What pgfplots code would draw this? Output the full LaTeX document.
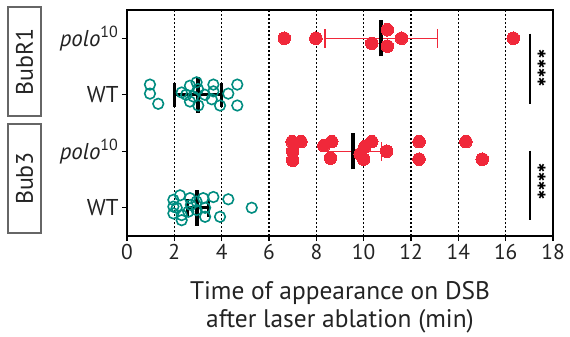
\documentclass[border=0pt]{standalone}
\usepackage{fontspec}
\setmainfont{PT Sans}
\newfontfamily\djv{DejaVu Sans}
\usepackage{pgfplots}
\pgfplotsset{compat=1.18}
\definecolor{myred}{RGB}{240,40,58}
\definecolor{myteal}{RGB}{0,140,128}
\definecolor{txt}{RGB}{35,35,35}
\begin{document}
\begin{tikzpicture}[x=1bp,y=1bp]
\useasboundingbox (-127,-100) rectangle (443,236);
\begin{axis}[at={(0,0)}, anchor=south west, scale only axis, width=426bp, height=226bp,
 xmin=0, xmax=18, ymin=0.5, ymax=4.5,
 xtick={0,2,...,18}, ytick={1,2,3,4},
 yticklabels={WT,\textit{polo}\textsuperscript{10},WT,\textit{polo}\textsuperscript{10}},
 tick pos=left, tick align=outside, major tick length=5bp,
 tick style={black, line width=1.2bp},
 axis line style={black, line width=1.5bp},
 xmajorgrids, grid style={black, line width=1.3bp, dash pattern=on 2bp off 2bp},
 xticklabel style={font=\fontsize{21.5}{24}\selectfont, text=txt},
 yticklabel style={font=\fontsize{23}{26}\selectfont, text=txt},
 xlabel={Time of appearance on DSB\\after laser ablation (min)},
 xlabel style={at={(axis description cs:0.5,0)}, anchor=north, yshift=-45bp, inner sep=0pt,
   align=center, font=\fontsize{25.5}{28}\selectfont, text=txt},
 /pgf/number format/assume math mode=true,
 clip=false]
% ---- BubR1 polo ----
\addplot[myred, line width=1.3bp] coordinates {(8.37,4) (13.11,4)};
\addplot[myred, line width=1.3bp] coordinates {(8.37,3.83) (8.37,4.17)};
\addplot[myred, line width=1.3bp] coordinates {(13.11,3.83) (13.11,4.17)};
\addplot[only marks, mark=*, mark size=6.3bp, mark options={draw=myred, line width=0pt, fill=myred}] coordinates {
(6.65,4.0) (7.98,4.0) (10.34,3.91) (11.0,4.15) (11.0,3.86) (11.6,4.0) (16.32,4.0)};
\addplot[black, line width=4bp] coordinates {(10.73,3.68) (10.73,4.32)};
% ---- BubR1 WT ----
\addplot[only marks, mark=o, mark size=5.3bp, mark options={draw=myteal, line width=1.6bp, fill=none}] coordinates {
(0.97,3.18) (0.97,3.02) (1.32,2.84) (2.31,3.04) (2.66,3.16) (2.94,3.22) (2.8,2.97) (2.66,2.88)
(3.01,2.81) (3.29,3.0) (3.65,3.18) (3.65,3.06) (3.58,2.92) (3.93,2.81) (4.28,3.02) (4.66,3.18)
(4.66,2.81) (3.0,3.1) (2.5,3.0)};
\addplot[black, line width=2.8bp] coordinates {(2.0,3) (4.0,3)};
\addplot[black, line width=2.8bp] coordinates {(2.0,2.79) (2.0,3.21)};
\addplot[black, line width=2.8bp] coordinates {(4.0,2.79) (4.0,3.21)};
\addplot[black, line width=4bp] coordinates {(3.0,2.68) (3.0,3.32)};
% ---- Bub3 polo ----
\addplot[myred, line width=1.3bp] coordinates {(8.3,2) (10.76,2)};
\addplot[myred, line width=1.3bp] coordinates {(10.76,1.83) (10.76,2.17)};
\addplot[only marks, mark=*, mark size=6.3bp, mark options={draw=myred, line width=0pt, fill=myred}] coordinates {
(6.98,2.17) (7.35,2.17) (7.0,2.0) (7.0,1.84) (8.32,2.1) (8.65,2.17) (8.6,1.88) (10.05,2.08)
(10.34,2.17) (10.0,1.86) (9.85,1.95) (10.97,2.0) (12.34,2.17) (12.34,1.86) (14.32,2.17) (15.01,1.86)};
\addplot[black, line width=4bp] coordinates {(9.53,1.68) (9.53,2.32)};
% ---- Bub3 WT ----
\addplot[only marks, mark=o, mark size=5.3bp, mark options={draw=myteal, line width=1.6bp, fill=none}] coordinates {
(1.96,1.14) (1.96,1.02) (1.96,0.9) (2.24,1.22) (2.31,0.78) (2.31,0.87) (2.66,1.17) (2.59,0.93)
(2.94,1.11) (2.94,0.96) (3.22,1.17) (3.30,1.0) (3.30,0.84) (3.65,1.19) (3.93,0.84) (4.28,1.15)
(5.27,1.0) (2.1,1.0) (2.7,1.05)};
\addplot[black, line width=2.8bp] coordinates {(2.54,1) (3.43,1)};
\addplot[black, line width=2.8bp] coordinates {(2.54,0.84) (2.54,1.16)};
\addplot[black, line width=2.8bp] coordinates {(3.43,0.84) (3.43,1.16)};
\addplot[black, line width=4bp] coordinates {(2.97,0.68) (2.97,1.32)};
% ---- significance ----
\draw[black, line width=2bp] (axis cs:17.03,4.08) -- (axis cs:17.03,2.84);
\draw[black, line width=2bp] (axis cs:17.03,2.01) -- (axis cs:17.03,0.78);
\node[rotate=-90, inner sep=0pt, font=\djv\fontsize{11}{12}\selectfont] at (axis cs:17.52,3.47) {✱✱✱✱};
\node[rotate=-90, inner sep=0pt, font=\djv\fontsize{11}{12}\selectfont] at (axis cs:17.52,1.46) {✱✱✱✱};
\end{axis}
% group boxes
\draw[gray!80!black, line width=1.5bp] (-119,120) rectangle (-86,229);
\draw[gray!80!black, line width=1.5bp] (-119,3) rectangle (-86,112);
\node[rotate=90, font=\fontsize{24}{26}\selectfont, text=txt] at (-102.5,174.5) {BubR1};
\node[rotate=90, font=\fontsize{24}{26}\selectfont, text=txt] at (-102.5,57.5) {Bub3};
\end{tikzpicture}
\end{document}
